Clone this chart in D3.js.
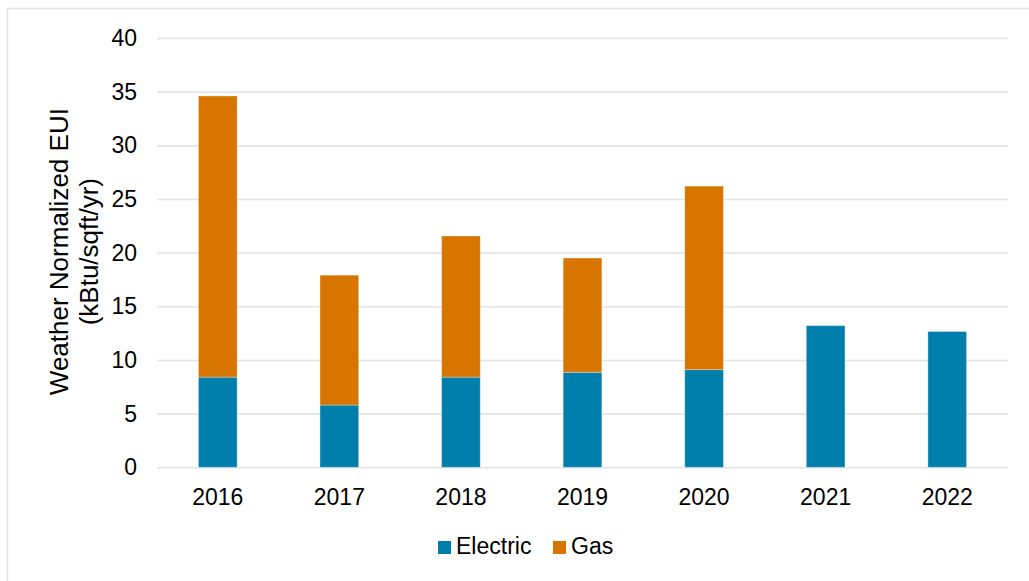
<!DOCTYPE html>
<html>
<head>
<meta charset="utf-8">
<script src="https://cdn.jsdelivr.net/npm/d3@7/dist/d3.min.js"></script>
<style>
  html, body { margin: 0; padding: 0; background: #fff; }
  svg { display: block; font-family: "Liberation Sans", Arial, sans-serif; }
</style>
</head>
<body>
<svg id="chart" width="1029" height="581"></svg>
<script>
const years = ["2016", "2017", "2018", "2019", "2020", "2021", "2022"];
const electric = [8.4, 5.8, 8.4, 8.85, 9.1, 13.2, 12.65];
const gas = [26.2, 12.1, 13.15, 10.65, 17.1, 0, 0];
const yTicks = [0, 5, 10, 15, 20, 25, 30, 35, 40];
const seriesNames = ["Electric", "Gas"];
const seriesColors = ["#017fac", "#d77500"];

const svg = d3.select("#chart");
const W = 1029, H = 581;
const m = { left: 157, right: 1008, top: 38, bottom: 467.3 };

// outer frame
svg.append("rect").attr("x", 7.5).attr("y", 8.5).attr("width", W + 10).attr("height", H + 10)
  .attr("fill", "#fff").attr("stroke", "#e3e3e3").attr("stroke-width", 1.5);

const x = d3.scaleBand().domain(years).range([m.left, m.right]).paddingInner(0.682).paddingOuter(0.341);
const y = d3.scaleLinear().domain([0, 40]).range([m.bottom, m.top]);

// gridlines
const yAxis = d3.axisLeft(y).tickValues(yTicks).tickSize(-(m.right - m.left)).tickPadding(20).tickFormat(d3.format("d"));
const gy = svg.append("g").attr("transform", `translate(${m.left},0)`).call(yAxis);
gy.select(".domain").remove();
gy.selectAll(".tick line").attr("stroke", "#e4e4e4").attr("stroke-width", 1.6);
gy.selectAll(".tick text").attr("fill", "#000").attr("font-size", "23px")
  .attr("font-family", "Liberation Sans, Arial, sans-serif").attr("x", -20);

// stacked data
const rows = years.map((yr, i) => ({ year: yr, Electric: electric[i], Gas: gas[i] }));
const stack = d3.stack().keys(seriesNames)(rows);

const barsG = svg.append("g");
stack.forEach((layer, li) => {
  barsG.selectAll(null).data(layer.filter(d => d[1] - d[0] > 0)).enter().append("rect")
    .attr("x", d => x(d.data.year))
    .attr("width", x.bandwidth())
    .attr("y", d => y(d[1]))
    .attr("height", d => y(d[0]) - y(d[1]))
    .attr("fill", seriesColors[li])
    .attr("stroke", "rgba(255,255,255,0.3)")
    .attr("stroke-width", 1);
});

// x axis labels
const xAxis = d3.axisBottom(x).tickSize(0).tickPadding(21);
const gx = svg.append("g").attr("transform", `translate(0,${m.bottom})`).call(xAxis);
gx.select(".domain").remove();
gx.selectAll(".tick text").attr("fill", "#000").attr("font-size", "23px")
  .attr("font-family", "Liberation Sans, Arial, sans-serif");

// y title
const cy = (m.top + m.bottom) / 2 - 1;
const title = svg.append("text").attr("transform", `translate(68,${cy}) rotate(-90)`)
  .attr("text-anchor", "middle").attr("font-size", "26px").attr("fill", "#000");
title.append("tspan").attr("x", 0).attr("y", 0).text("Weather Normalized EUI");
title.append("tspan").attr("x", 0).attr("y", 30).text("(kBtu/sqft/yr)");

// legend
const legend = svg.append("g");
const legItems = [{ x: 438, tx: 456 }, { x: 553, tx: 571 }];
seriesNames.forEach((name, i) => {
  legend.append("rect").attr("x", legItems[i].x).attr("y", 541).attr("width", 13).attr("height", 13)
    .attr("fill", seriesColors[i]);
  legend.append("text").attr("x", legItems[i].tx).attr("y", 554).attr("font-size", "23px")
    .attr("fill", "#000").text(name);
});
</script>
</body>
</html>
